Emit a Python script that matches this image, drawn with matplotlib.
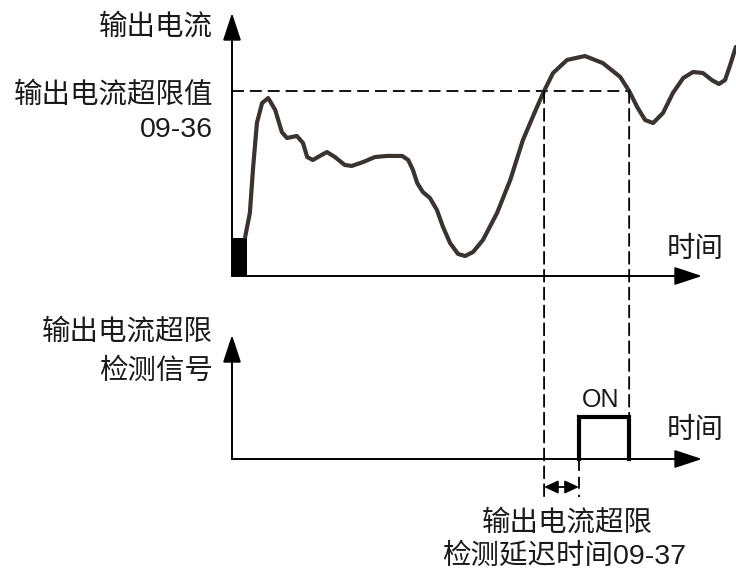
import numpy as np
import matplotlib
matplotlib.use('Agg')
import matplotlib.pyplot as plt
from matplotlib.patches import ConnectionPatch, Rectangle

plt.rcParams['font.family'] = ['Liberation Sans', 'Noto Sans CJK SC', 'DejaVu Sans']

# ---------------- data ----------------
time = [2.8, 3.8, 4.5, 5.3, 6.4, 7.7, 9.2, 10.6, 11.7, 13.8, 15.1, 16.0, 17.2,
        18.7, 20.2, 21.9, 24.0, 25.5, 27.9, 30.4, 33.0, 36.2, 37.5, 38.5, 39.4,
        40.6, 42.1, 43.6, 44.9, 46.4, 48.1, 49.6, 51.3, 53.4, 56.4, 59.2, 61.9,
        64.9, 66.4, 68.3, 71.3, 75.1, 78.9, 82.6, 84.5, 86.2, 87.9, 89.6, 91.7,
        93.8, 96.0, 98.1, 100.2, 102.1, 103.6, 104.9, 106.0, 107.2]
current = [21.1, 34.1, 58.9, 82.7, 93.5, 96.2, 89.7, 77.8, 74.6, 75.7, 71.9,
           64.3, 62.7, 64.9, 67.0, 64.3, 60.0, 59.5, 61.6, 64.3, 64.9, 64.9,
           62.7, 57.3, 50.3, 45.4, 42.2, 35.7, 26.5, 17.8, 11.9, 10.8, 13.0,
           19.5, 34.1, 51.9, 73.5, 91.4, 100.0, 109.7, 116.8, 118.9, 115.1,
           107.6, 100.0, 91.4, 84.3, 82.7, 88.1, 98.9, 107.0, 110.3, 109.7,
           105.9, 103.8, 105.9, 114.1, 123.8]
limit = 100.0            # 09-36 output current over-limit level
t_over = 66.4            # current rises above limit
t_under = 84.5           # current falls below limit
delay = 7.4              # 09-37 detection delay
start_block_t = 3.2
start_block_i = 20.5
signal_t = [t_over + delay, t_over + delay, t_under, t_under]
signal_v = [0, 1, 1, 0]

# ---------------- figure ----------------
W, H = 736, 574
fig = plt.figure(figsize=(W / 100, H / 100), dpi=100)
fig.patch.set_facecolor('white')

PX_T = 4.7    # px per time unit
PX_I = 1.85   # px per current unit
PX_S = 42.0   # px per signal unit

ax1 = fig.add_axes([232 / W, (H - 276) / H, 504 / W, 276 / H])
ax1.set_xlim(0, 504 / PX_T)
ax1.set_ylim(0, 276 / PX_I)
ax1.axis('off')

ax2 = fig.add_axes([232 / W, 0, 504 / W, 274 / H])
ax2.set_xlim(0, 504 / PX_T)
ax2.set_ylim(-(574 - 459) / PX_S, (459 - 300) / PX_S)
ax2.axis('off')

axis_kw = dict(arrowstyle='-|>,head_length=0.85,head_width=0.28',
               mutation_scale=20, lw=1.4, color='black',
               shrinkA=0, shrinkB=0)
t_end = 100.0
ax1.annotate('', xy=(0, (276 - 13) / PX_I), xytext=(0, 0),
             arrowprops=axis_kw, annotation_clip=False)
ax1.annotate('', xy=(t_end, 0), xytext=(0, 0),
             arrowprops=axis_kw, annotation_clip=False)
ax2.annotate('', xy=(0, (459 - 335) / PX_S), xytext=(0, 0),
             arrowprops=axis_kw, annotation_clip=False)
ax2.annotate('', xy=(t_end, 0), xytext=(0, 0),
             arrowprops=axis_kw, annotation_clip=False)

dash = (0, (6.6, 3.3))
dcol = 'black'
dlw = 1.3
ax1.plot([0, t_under], [limit, limit], color=dcol, lw=dlw, ls=dash,
         clip_on=False, zorder=1)
bottom_dash = -(497 - 459) / PX_S
for t_x, y_end in [(t_over, bottom_dash), (t_under, 1.0)]:
    cp = ConnectionPatch(xyA=(t_x, limit), coordsA=ax1.transData,
                         xyB=(t_x, y_end), coordsB=ax2.transData,
                         color=dcol, lw=dlw, ls=dash, zorder=1)
    fig.add_artist(cp)
ax2.plot([signal_t[0], signal_t[0]], [0, bottom_dash], color=dcol, lw=dlw,
         ls=dash, clip_on=False)

# start block
ax1.add_patch(Rectangle((0, 0), start_block_t, start_block_i,
                        facecolor='black', edgecolor='black', lw=0,
                        clip_on=False, zorder=3))

# current curve
ax1.plot(time, current, color='#3a3330', lw=3.0, solid_joinstyle='round',
         solid_capstyle='round', clip_on=False, zorder=4)

# signal pulse
ax2.plot(signal_t, signal_v, color='black', lw=3.0, solid_joinstyle='miter',
         clip_on=False, zorder=4)

# delay arrow
ax2.annotate('', xy=(signal_t[0], -(487 - 459) / PX_S),
             xytext=(t_over, -(487 - 459) / PX_S),
             arrowprops=dict(arrowstyle='<|-|>,head_length=0.6,head_width=0.28',
                             mutation_scale=14, lw=1.3, color='black',
                             shrinkA=0, shrinkB=0),
             annotation_clip=False)

# ---------------- text ----------------
tc = '#1a1a1a'
fs = 20.5


def ftext(x, y, s, **kw):
    kw.setdefault('fontsize', fs)
    kw.setdefault('color', tc)
    kw.setdefault('fontweight', 'light')
    fig.text(x / W, 1 - y / H, s, **kw)


ftext(213, 27, '输出电流', ha='right', va='center')
ftext(213, 95, '输出电流超限值', ha='right', va='center')
ftext(213, 130, '09-36', ha='right', va='center')
ftext(667, 250, '时间', ha='left', va='center')
ftext(213, 332, '输出电流超限', ha='right', va='center')
ftext(213, 372, '检测信号', ha='right', va='center')
ftext(601, 400, 'ON', ha='center', va='center', fontsize=18)
ftext(667, 431, '时间', ha='left', va='center')
ftext(567, 523, '输出电流超限', ha='center', va='center')
ftext(564, 557, '检测延迟时间09-37', ha='center', va='center')

fig.savefig('out.png', dpi=100)
